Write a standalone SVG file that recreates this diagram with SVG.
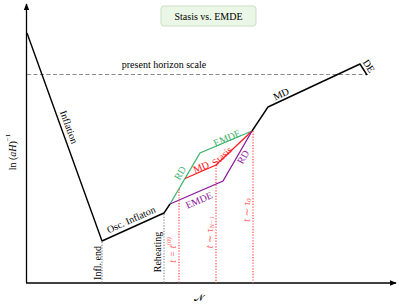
<svg xmlns="http://www.w3.org/2000/svg" width="399" height="308" viewBox="0 0 399 308">
<defs>
<marker id="arr" viewBox="0 0 10 10" refX="9" refY="5" markerWidth="7" markerHeight="7" orient="auto" markerUnits="userSpaceOnUse">
<path d="M0,1 L10,5 L0,9 Z" fill="#000"/>
</marker>
<style>
text{font-family:"Liberation Serif","DejaVu Serif",serif;font-size:10px;}
.blk{fill:none;stroke:#000;stroke-width:1.4;stroke-linejoin:round;}
.grn{fill:none;stroke:#3fb370;stroke-width:1.3;}
.red{fill:none;stroke:#ff1a1a;stroke-width:1.3;}
.pur{fill:none;stroke:#8e1a9c;stroke-width:1.3;}
.rdot{fill:none;stroke:#ff4d4d;stroke-width:1.3;stroke-dasharray:1.2 1.6;}
.gdot{fill:none;stroke:#888;stroke-width:1.2;stroke-dasharray:1.2 1.6;}
.lab{text-anchor:middle;dominant-baseline:central;}
.tg{fill:#3fb370;} .tr{fill:#ff1a1a;} .tp{fill:#8e1a9c;} .tt{fill:#ff5a5a;font-style:italic;font-size:10px;}
</style>
</defs>
<g id="title">
<rect x="161" y="6" width="95" height="20" rx="3" fill="#eaf7e6" stroke="#c6dfc3" stroke-width="1"/>
<text x="208.5" y="20" text-anchor="middle" font-size="11">Stasis vs. EMDE</text>
</g>
<g id="axes">
<line x1="26.5" y1="283" x2="26.5" y2="4" stroke="#000" stroke-width="1.3" marker-end="url(#arr)"/>
<line x1="26" y1="283" x2="396" y2="283" stroke="#000" stroke-width="1.3" marker-end="url(#arr)"/>
<text class="lab" transform="translate(12,152) rotate(-90)"><tspan>ln (</tspan><tspan font-style="italic">aH</tspan><tspan>)</tspan><tspan font-size="7" dy="-4">−1</tspan></text>
<text x="199" y="301" text-anchor="middle" font-size="18">𝒩</text>
</g>
<g id="horizon">
<line x1="27" y1="74.5" x2="368" y2="74.5" stroke="#8a8a8a" stroke-width="1" stroke-dasharray="4 2.5"/>
<text x="164" y="68" text-anchor="middle">present horizon scale</text>
</g>
<g id="connectors">
<polyline class="blk" points="27,33 102,241 164,213 170,204"/>
<polyline class="blk" points="252,131 268,107 360,64 367,75"/>
<polyline class="grn" points="170,204 200,153 252,131"/>
<polyline class="red" points="185,178.5 216,165 252,131"/>
<polyline class="pur" points="170,204 223,181 252,131"/>
<line class="gdot" x1="102" y1="242" x2="102" y2="283"/>
<line class="gdot" x1="164" y1="214" x2="164" y2="283"/>
<line class="rdot" x1="179" y1="189" x2="179" y2="283"/>
<line class="rdot" x1="216" y1="165" x2="216" y2="283"/>
<line class="rdot" x1="253" y1="131" x2="253" y2="283"/>
</g>
<g id="labels">
<text class="lab" transform="translate(69,127) rotate(70)">Inflation</text>
<text class="lab" transform="translate(131,219.5) rotate(-24.3)">Osc. Inflaton</text>
<text class="lab" transform="translate(97,263) rotate(-90)">Infl. end</text>
<text class="lab" transform="translate(157,252) rotate(-90)">Reheating</text>
<text class="lab tg" transform="translate(180,173) rotate(-59.5)">RD</text>
<text class="lab tg" transform="translate(227,138) rotate(-23)">EMDE</text>
<text class="lab tr" transform="translate(201,167) rotate(-23)">MD</text>
<text class="lab tr" transform="translate(222,156) rotate(-43)" font-size="7.5">Stasis</text>
<text class="lab tp" transform="translate(243,157) rotate(-60)">RD</text>
<text class="lab tp" transform="translate(199,200) rotate(-23.5)">EMDE</text>
<text class="lab" transform="translate(281,94) rotate(-25)">MD</text>
<text class="lab" transform="translate(369,66) rotate(57)">DE</text>
<text class="lab tt" transform="translate(172,250) rotate(-90)">t = t<tspan font-size="7" dy="-3.5">(0)</tspan></text>
<text class="lab tt" transform="translate(209,232) rotate(-90)">t ∼ τ<tspan font-size="7" dy="2.5">N−1</tspan></text>
<text class="lab tt" transform="translate(246,210) rotate(-90)">t ∼ τ<tspan font-size="7" dy="2.5">0</tspan></text>
</g>
</svg>
